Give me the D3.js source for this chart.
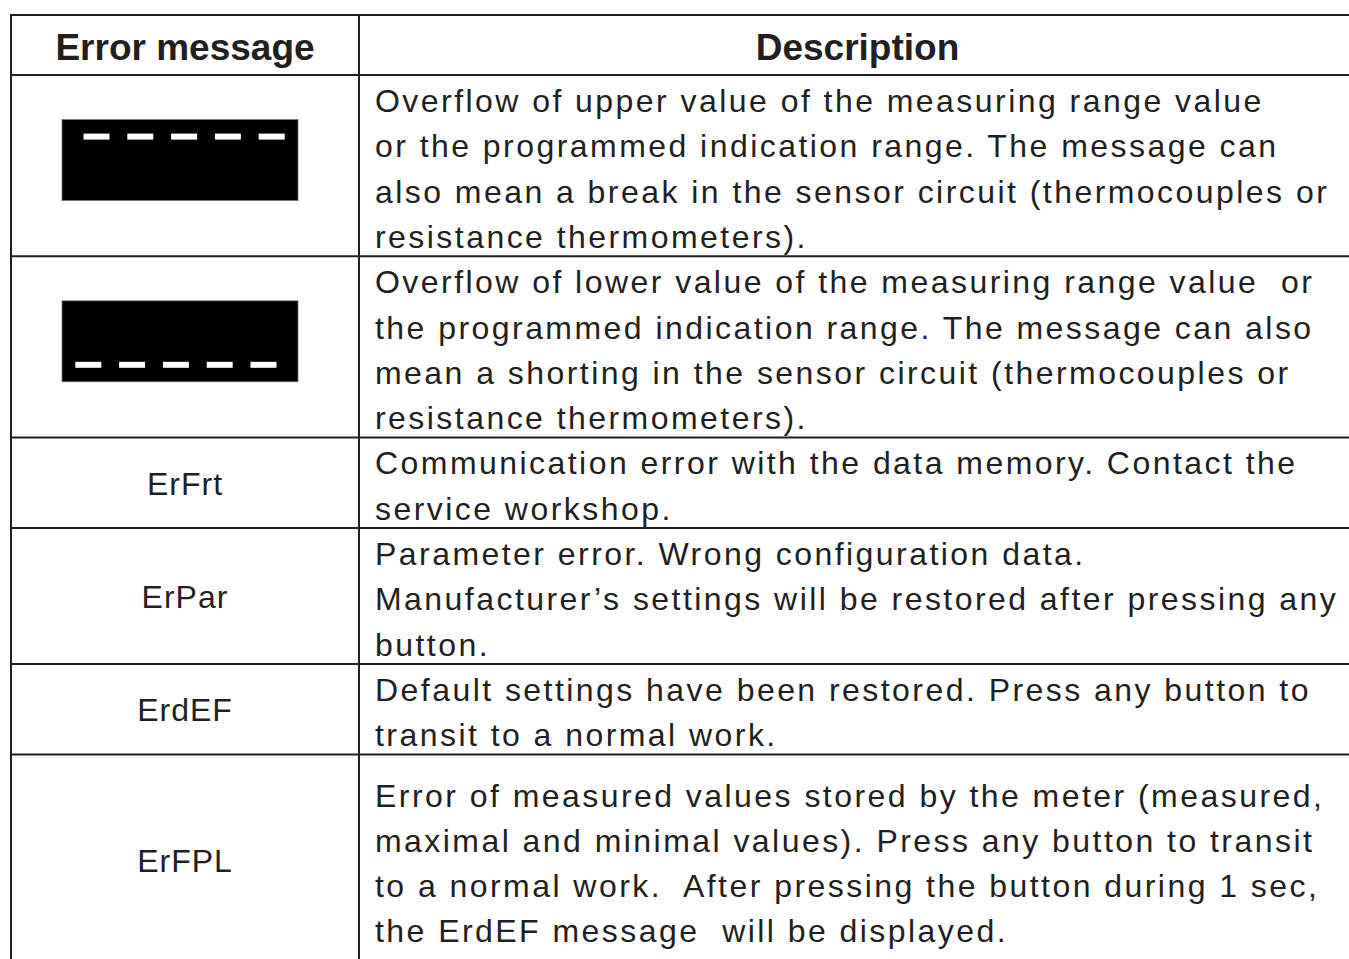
<!DOCTYPE html>
<html>
<head>
<meta charset="utf-8">
<script src="https://cdn.jsdelivr.net/npm/d3@7"></script>
<style>
  html, body { margin: 0; padding: 0; background: #ffffff; overflow: hidden; }
  svg text { white-space: pre; }
</style>
</head>
<body>
<script>
// ---- data ----
const headers = ["Error message", "Description"];
const iconKinds = ["upper", "lower", null, null, null, null];
const codes = ["", "", "ErFrt", "ErPar", "ErdEF", "ErFPL"];
const descLines = [
  ["Overflow of upper value of the measuring range value",
   "or the programmed indication range. The message can",
   "also mean a break in the sensor circuit (thermocouples or",
   "resistance thermometers)."],
  ["Overflow of lower value of the measuring range value  or",
   "the programmed indication range. The message can also",
   "mean a shorting in the sensor circuit (thermocouples or",
   "resistance thermometers)."],
  ["Communication error with the data memory. Contact the",
   "service workshop."],
  ["Parameter error. Wrong configuration data.",
   "Manufacturer\u2019s settings will be restored after pressing any",
   "button."],
  ["Default settings have been restored. Press any button to",
   "transit to a normal work."],
  ["Error of measured values stored by the meter (measured,",
   "maximal and minimal values). Press any button to transit",
   "to a normal work.  After pressing the button during 1 sec,",
   "the ErdEF message  will be displayed."]
];
const dashCount = 5;

// ---- layout ----
const W = 1349, H = 959;
const ink = "#231f20";
const fontFam = "'Liberation Sans', Arial, Helvetica, sans-serif";
const lineH = 45.3;
const tableTop = 15, headH = 60;
const colEdges = [11, 359, 1356];

const svg = d3.select("body").append("svg")
  .attr("width", W).attr("height", H);

let yCursor = tableTop + headH;
const layout = descLines.map((lines, i) => {
  const pad = (i === descLines.length - 1) ? 15 : 0;
  const h = lines.length * lineH + 2 * pad;
  const r = { top: yCursor, h, pad, lines, code: codes[i], icon: iconKinds[i] };
  yCursor += h;
  return r;
});
const tableBottom = yCursor;

const x = d3.scaleOrdinal().domain([0, 1, 2]).range(colEdges);

// grid lines
const g = svg.append("g");
const hLines = [tableTop, tableTop + headH].concat(layout.map(r => r.top + r.h));
g.selectAll("line.h").data(hLines).join("line")
  .attr("class", "h")
  .attr("x1", x(0) - 1).attr("x2", x(2))
  .attr("y1", d => d).attr("y2", d => d)
  .attr("stroke", ink).attr("stroke-width", 2);
g.selectAll("line.v").data([0, 1, 2]).join("line")
  .attr("class", "v")
  .attr("x1", d => x(d)).attr("x2", d => x(d))
  .attr("y1", tableTop - 1).attr("y2", tableBottom + 1)
  .attr("stroke", ink).attr("stroke-width", 2);

// header
svg.selectAll("text.head").data(headers).join("text")
  .attr("class", "head")
  .attr("x", (d, i) => (x(i) + x(i + 1)) / 2 + (i === 0 ? 0 : 0))
  .attr("y", tableTop + 45)
  .attr("text-anchor", "middle")
  .attr("font-family", fontFam)
  .attr("font-weight", "bold")
  .attr("font-size", 37)
  .attr("fill", ink)
  .text(d => d);

// rows
const rowG = svg.selectAll("g.row").data(layout).join("g").attr("class", "row");

// description lines
rowG.each(function (r) {
  d3.select(this).selectAll("text.desc").data(r.lines).join("text")
    .attr("class", "desc")
    .attr("x", x(1) + 16)
    .attr("y", (d, k) => r.top + r.pad + 37 + k * lineH)
    .attr("font-family", fontFam)
    .attr("font-size", 32)
    .attr("letter-spacing", 2.45)
    .attr("fill", ink)
    .text(d => d);
});

// codes
rowG.filter(r => r.code).append("text")
  .attr("x", (x(0) + x(1)) / 2)
  .attr("y", r => r.top + r.h / 2 + 12)
  .attr("text-anchor", "middle")
  .attr("font-family", fontFam)
  .attr("font-size", 32)
  .attr("letter-spacing", 1)
  .attr("fill", ink)
  .text(r => r.code);

// icons (display with dashes)
const iconW = 236, iconH = 81, dashW = 26, dashH = 6, dashPitch = 43.8, dashLeft = 21.5, dashTop = 14;
const dashX = d3.scaleLinear().domain([0, dashCount - 1]).range([dashLeft, dashLeft + (dashCount - 1) * dashPitch]);
const iconG = rowG.filter(r => r.icon).append("g")
  .attr("transform", r => {
    const cx = 180, cy = r.top + r.h / 2 - 5.5;
    const rot = r.icon === "lower" ? 180 : 0;
    return `translate(${cx},${cy}) rotate(${rot}) translate(${-iconW / 2},${-iconH / 2})`;
  });
iconG.append("rect")
  .attr("width", iconW).attr("height", iconH)
  .attr("fill", "#000").attr("stroke", "#777").attr("stroke-width", 0.8);
iconG.selectAll("rect.dash").data(d3.range(dashCount)).join("rect")
  .attr("class", "dash")
  .attr("x", d => dashX(d)).attr("y", dashTop)
  .attr("width", dashW).attr("height", dashH)
  .attr("fill", "#fff");
</script>
</body>
</html>
